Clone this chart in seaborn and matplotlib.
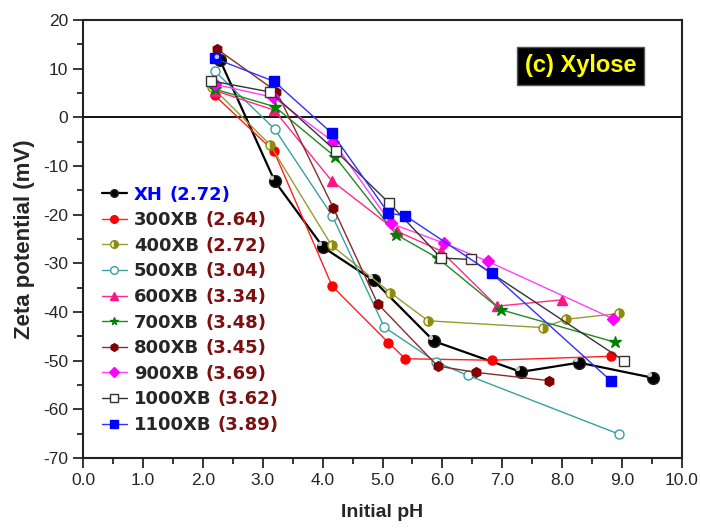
import numpy as np
import pandas as pd
import seaborn as sns
import matplotlib.pyplot as plt
from matplotlib.path import Path
from matplotlib.ticker import MultipleLocator, FormatStrFormatter

# data
names = ['XH', '300XB', '400XB', '500XB', '600XB', '700XB', '800XB', '900XB', '1000XB', '1100XB']
pzc = ['(2.72)', '(2.64)', '(2.72)', '(3.04)', '(3.34)', '(3.48)', '(3.45)', '(3.69)', '(3.62)', '(3.89)']

ph_xh = [2.29, 3.20, 4.01, 4.85, 5.86, 7.31, 8.28, 9.51]
zeta_xh = [11.7, -13.1, -26.7, -33.5, -46.0, -52.3, -50.4, -53.5]
ph_300 = [2.20, 3.19, 4.16, 5.10, 5.38, 6.82, 8.81]
zeta_300 = [4.5, -7.0, -34.7, -46.3, -49.6, -49.9, -49.1]
ph_400 = [2.15, 3.12, 4.15, 5.13, 5.76, 7.68, 8.06, 8.95]
zeta_400 = [6.3, -5.6, -26.3, -36.0, -41.8, -43.2, -41.5, -40.3]
ph_500 = [2.20, 3.20, 4.16, 5.03, 5.90, 6.42, 8.95]
zeta_500 = [9.5, -2.4, -20.2, -43.1, -50.3, -53.0, -65.1]
ph_600 = [2.20, 3.19, 4.15, 5.24, 5.97, 6.91, 7.99]
zeta_600 = [5.5, 1.5, -13.0, -23.4, -27.4, -38.8, -37.5]
ph_700 = [2.20, 3.20, 4.21, 5.23, 5.92, 6.97, 8.88]
zeta_700 = [5.8, 2.2, -8.1, -24.1, -28.9, -39.5, -46.2]
ph_800 = [2.23, 3.23, 4.18, 4.92, 5.92, 6.56, 7.78]
zeta_800 = [14.1, 5.3, -18.6, -38.3, -51.1, -52.4, -54.1]
ph_900 = [2.20, 3.18, 4.18, 5.14, 6.02, 6.76, 8.85]
zeta_900 = [6.8, 4.1, -5.0, -21.8, -25.8, -29.6, -41.4]
ph_1000 = [2.14, 3.13, 4.22, 5.11, 5.98, 6.47, 9.03]
zeta_1000 = [7.5, 5.2, -6.9, -17.6, -28.9, -29.2, -50.0]
ph_1100 = [2.20, 3.19, 4.16, 5.10, 5.38, 6.82, 8.81]
zeta_1100 = [12.1, 7.4, -3.3, -19.7, -20.2, -32.0, -54.1]

all_ph = [ph_xh, ph_300, ph_400, ph_500, ph_600, ph_700, ph_800, ph_900, ph_1000, ph_1100]
all_zeta = [zeta_xh, zeta_300, zeta_400, zeta_500, zeta_600, zeta_700, zeta_800, zeta_900, zeta_1000, zeta_1100]

sns.set_style('ticks')
plt.rcParams['font.family'] = ['Liberation Sans Narrow', 'Liberation Sans', 'DejaVu Sans']
plt.rcParams['axes.unicode_minus'] = False

fig = plt.figure(figsize=(7.01, 5.30), dpi=100)
ax = fig.add_axes([0.1184, 0.1358, 0.8545, 0.8264])

# marker styles per series
styles = [
    dict(color='black', marker='o', ms=8.5, mfc='black', mec='#222222', lw=1.6),
    dict(color='#ff2020', marker='o', ms=6.5, mfc='#ff0000', mec='#ff0000', lw=1.0),
    dict(color='#9a9a30', marker='o', ms=6.5, mfc='#8c8c10', mec='#8c8c10', fillstyle='right',
         markerfacecoloralt='#f4f4d0', lw=1.0),
    dict(color='#3a9fa0', marker='o', ms=6.5, mfc='white', mec='#3a9fa0', lw=1.0),
    dict(color='#ff2a8a', marker='^', ms=7.5, mfc='#ff1488', mec='#ff1488', lw=1.0),
    dict(color='#1f8a1f', marker='*', ms=9, mfc='#008000', mec='#008000', lw=1.0),
    dict(color='#8a2a2a', marker='h', ms=7, mfc='#800000', mec='#800000', lw=1.0),
    dict(color='#ff40ff', marker='D', ms=6, mfc='#ff00ff', mec='#ff00ff', lw=1.0),
    dict(color='#333333', marker='s', ms=6.5, mfc='white', mec='#333333', lw=1.0),
    dict(color='#3030ff', marker='s', ms=6.5, mfc='#0000ff', mec='#0000ff', lw=1.0),
]

for name, ph, zeta, st in zip(names, all_ph, all_zeta, styles):
    df = pd.DataFrame({'pH': ph, 'zeta': zeta})
    sns.lineplot(data=df, x='pH', y='zeta', sort=False, estimator=None, ax=ax,
                 label=name, markeredgewidth=1.0, **st)

# shiny highlight on the XH spheres
hl = Path.circle(center=(-0.35, 0.35), radius=0.22)
ax.plot(ph_xh, zeta_xh, ls='none', marker=hl, ms=8.5, mfc='#c8c8c8', mec='none', zorder=5)

ax.axhline(0, color='black', lw=1.3, zorder=1)

ax.set_xlim(0, 10)
ax.set_ylim(-70, 20)
ax.xaxis.set_major_locator(MultipleLocator(1))
ax.xaxis.set_minor_locator(MultipleLocator(0.5))
ax.xaxis.set_major_formatter(FormatStrFormatter('%.1f'))
ax.yaxis.set_major_locator(MultipleLocator(10))
ax.yaxis.set_minor_locator(MultipleLocator(5))
ax.tick_params(axis='both', which='major', direction='out', length=7, width=1.3, labelsize=12.5)
ax.tick_params(axis='both', which='minor', direction='out', length=4, width=1.3)
for sp in ax.spines.values():
    sp.set_linewidth(1.5)
    sp.set_color('#222222')

ax.set_xlabel('Initial pH', fontsize=14, fontweight='bold', family='Liberation Sans', labelpad=12)
ax.set_ylabel('Zeta potential (mV)', fontsize=16, fontweight='bold', family='Liberation Sans', labelpad=6)

ax.text(8.31, 10.6, '(c) Xylose', ha='center', va='center', fontsize=17, fontweight='bold',
        color='#ffff00', family='Liberation Sans',
        bbox=dict(boxstyle='square,pad=0.32', facecolor='black', edgecolor='#555555'))

leg = ax.legend(loc='upper left', bbox_to_anchor=(0.032, 0.622), frameon=False,
                prop={'family': 'DejaVu Sans', 'weight': 'bold', 'size': 13},
                handlelength=1.35, handletextpad=0.4, labelspacing=0.42,
                borderpad=0, borderaxespad=0)
for h in leg.legend_handles:
    h.set_markersize(5.5)

fig.canvas.draw()
inv = ax.transAxes.inverted()
for i, t in enumerate(leg.get_texts()):
    bb = t.get_window_extent()
    x0, y0 = inv.transform((bb.x1, (bb.y0 + bb.y1) / 2))
    if i == 0:
        t.set_color('#0000ff')
        col = '#0000ff'
    else:
        col = '#7a1010'
    ax.text(x0 + 0.011, y0, pzc[i], transform=ax.transAxes, ha='left', va='center',
            fontsize=13, fontweight='bold', color=col, family='DejaVu Sans')

fig.savefig('out.png', dpi=100)
